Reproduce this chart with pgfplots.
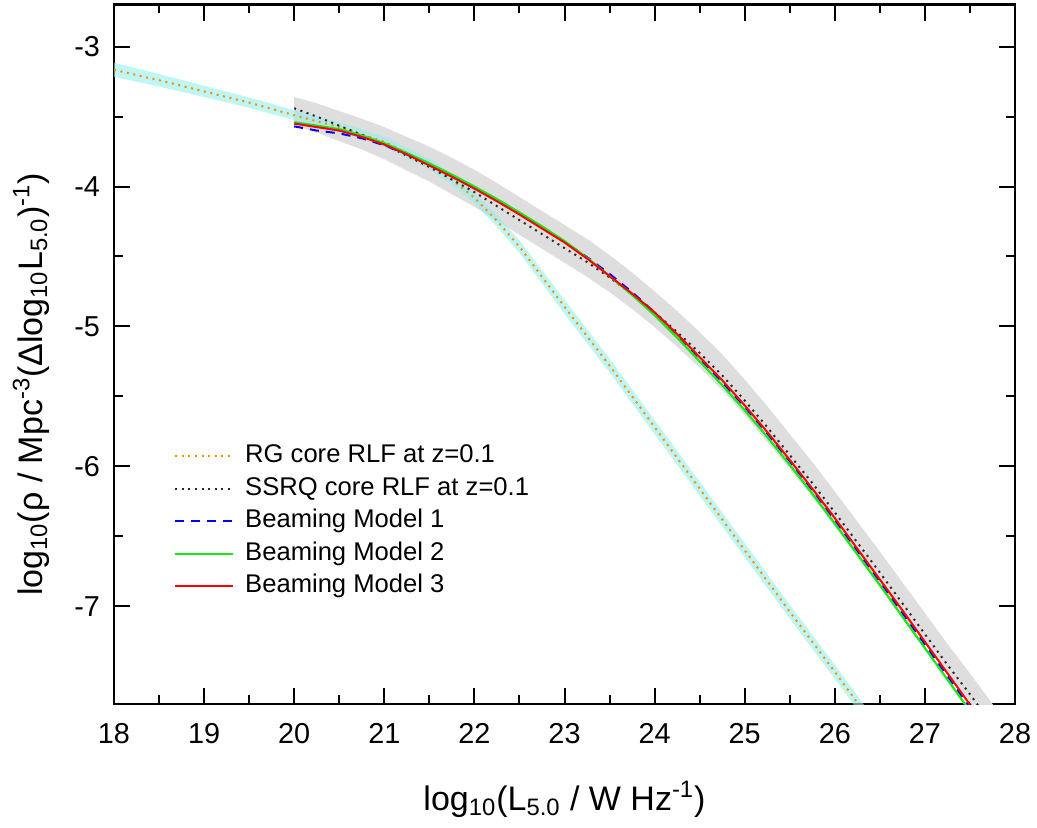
\documentclass[border=0pt]{standalone}
\usepackage{fontspec}
\setmainfont{Liberation Sans}
\usepackage{pgfplots}
\usepackage{pgfplotstable}
\pgfplotsset{compat=1.18}
\usepgfplotslibrary{fillbetween}
\definecolor{rgorange}{RGB}{255,140,0}
\definecolor{bandcyan}{RGB}{147,238,238}
\definecolor{bandgrey}{RGB}{222,222,222}
\definecolor{mgreen}{RGB}{20,235,20}
\definecolor{mred}{RGB}{255,0,0}
\definecolor{mblue}{RGB}{0,0,255}
\definecolor{sgrey}{RGB}{40,40,40}

% RG core RLF with its uncertainty band
\pgfplotstableread{
x      y       lo      hi
18.0  -3.165  -3.215  -3.115
18.5  -3.24   -3.285  -3.195
19.0  -3.32   -3.36   -3.28
19.5  -3.40   -3.437  -3.363
20.0  -3.49   -3.525  -3.455
20.5  -3.575  -3.61   -3.54
21.0  -3.68   -3.715  -3.645
21.25 -3.76   -3.796  -3.724
21.5  -3.84   -3.877  -3.803
21.75 -3.95   -3.988  -3.912
22.0  -4.08   -4.12   -4.04
22.25 -4.245  -4.287  -4.203
22.5  -4.43   -4.475  -4.385
22.75 -4.645  -4.692  -4.598
23.0  -4.86   -4.91   -4.81
23.25 -5.07   -5.12   -5.02
23.5  -5.28   -5.33   -5.23
24.0  -5.72   -5.77   -5.67
24.5  -6.16   -6.21   -6.11
25.0  -6.60   -6.65   -6.55
25.5  -7.04   -7.09   -6.99
26.0  -7.47   -7.52   -7.42
26.5  -7.91   -7.96   -7.86
}\rgtable

% SSRQ core RLF with its uncertainty band
\pgfplotstableread{
x      y       lo      hi
20.0  -3.44   -3.56   -3.36
20.25 -3.50   -3.615  -3.405
20.5  -3.565  -3.675  -3.46
20.75 -3.63   -3.735  -3.515
21.0  -3.70   -3.805  -3.575
21.25 -3.78   -3.885  -3.645
21.5  -3.86   -3.965  -3.715
21.75 -3.95   -4.055  -3.795
22.0  -4.04   -4.145  -3.88
22.25 -4.14   -4.245  -3.975
22.5  -4.24   -4.345  -4.075
22.75 -4.34   -4.445  -4.175
23.0  -4.44   -4.545  -4.275
23.25 -4.54   -4.645  -4.375
23.5  -4.65   -4.755  -4.49
23.75 -4.77   -4.875  -4.615
24.0  -4.90   -5.005  -4.75
24.25 -5.04   -5.145  -4.89
24.5  -5.19   -5.295  -5.04
24.75 -5.35   -5.455  -5.20
25.0  -5.53   -5.635  -5.38
25.25 -5.72   -5.825  -5.57
25.5  -5.92   -6.02   -5.77
25.75 -6.12   -6.22   -5.97
26.0  -6.33   -6.43   -6.18
26.25 -6.545  -6.64   -6.395
26.5  -6.76   -6.85   -6.61
26.75 -6.98   -7.06   -6.83
27.0  -7.20   -7.27   -7.05
27.25 -7.42   -7.48   -7.27
27.5  -7.63   -7.69   -7.48
27.75 -7.85   -7.90   -7.70
28.0  -8.07   -8.11   -7.92
}\ssrqtable

% Beaming models
\pgfplotstableread{
x      m1      m2      m3
20.0  -3.57   -3.54   -3.55
20.25 -3.60   -3.565  -3.575
20.5  -3.62   -3.59   -3.60
20.75 -3.655  -3.635  -3.645
21.0  -3.705  -3.69   -3.70
21.25 -3.77   -3.76   -3.77
21.5  -3.84   -3.835  -3.85
21.75 -3.92   -3.915  -3.93
22.0  -4.005  -4.00   -4.015
22.25 -4.095  -4.09   -4.105
22.5  -4.19   -4.185  -4.20
22.75 -4.29   -4.285  -4.30
23.0  -4.395  -4.39   -4.40
23.25 -4.505  -4.51   -4.515
23.5  -4.625  -4.64   -4.64
23.75 -4.755  -4.775  -4.765
24.0  -4.90   -4.92   -4.90
24.25 -5.06   -5.08   -5.055
24.5  -5.23   -5.25   -5.22
24.75 -5.40   -5.42   -5.385
25.0  -5.575  -5.60   -5.565
25.25 -5.765  -5.79   -5.755
25.5  -5.965  -5.99   -5.955
25.75 -6.17   -6.195  -6.16
26.0  -6.385  -6.41   -6.37
26.25 -6.605  -6.63   -6.59
26.5  -6.825  -6.85   -6.81
26.75 -7.05   -7.075  -7.03
27.0  -7.275  -7.30   -7.255
27.25 -7.50   -7.525  -7.48
27.5  -7.725  -7.75   -7.705
}\modeltable

\begin{document}
\begin{tikzpicture}
\begin{axis}[
  scale only axis,
  width=450.5pt, height=349.65pt,
  xmin=18, xmax=28, ymin=-7.7, ymax=-2.7,
  xtick={18,19,20,21,22,23,24,25,26,27,28},
  xticklabels={18,19,20,21,22,23,24,25,26,27,28},
  ytick={-7,-6,-5,-4,-3},
  yticklabels={-7,-6,-5,-4,-3},
  minor x tick num=1, minor y tick num=1,
  tick align=inside, tick pos=both,
  major tick length=8pt, minor tick length=4.3pt,
  every tick/.append style={black, line width=1pt},
  axis line style={line width=1.4pt},
  ticklabel style={font=\fontsize{14.4}{17}\selectfont},
  xticklabel style={yshift=-6pt},
  yticklabel style={xshift=-3.5pt},
  every axis x label/.style={at={(axis description cs:0.5,-0.1516)}, anchor=base},
  every axis y label/.style={at={(axis description cs:-0.0799,0.457)}, rotate=90, anchor=base},
  label style={font=\fontsize{17}{20}\selectfont},
  xlabel={log\textsubscript{10}(L\textsubscript{5.0} / W Hz\textsuperscript{-1})},
  ylabel={log\textsubscript{10}(ρ / Mpc\textsuperscript{-3}(Δlog\textsubscript{10}L\textsubscript{5.0})\textsuperscript{-1})},
  legend style={at={(axis cs:18.666,-5.844)}, anchor=north west, draw=none, fill=none,
    inner sep=0pt, outer sep=0pt, row sep=4.2pt, column sep=5.5pt,
    font=\fontsize{12.8}{15}\selectfont,
    nodes={inner sep=0pt, text height=9.2pt, text depth=2.8pt}},
  legend cell align=left,
  legend image code/.code={\draw[#1] (0pt,0pt) -- (29pt,0pt);},
]
% uncertainty bands
\addplot[name path=ssrqhi, draw=none, forget plot] table[x=x, y=hi]{\ssrqtable};
\addplot[name path=ssrqlo, draw=none, forget plot] table[x=x, y=lo]{\ssrqtable};
\addplot[bandgrey, forget plot] fill between[of=ssrqhi and ssrqlo];
\addplot[name path=rghi, draw=none, forget plot] table[x=x, y=hi]{\rgtable};
\addplot[name path=rglo, draw=none, forget plot] table[x=x, y=lo]{\rgtable};
\addplot[bandcyan, fill opacity=0.6, forget plot] fill between[of=rghi and rglo];
% curves
\addplot[rgorange, line width=1pt, dash pattern=on 1pt off 2.3pt] table[x=x, y=y]{\rgtable};
\addlegendentry{RG core RLF at z=0.1}
\addplot[sgrey, line width=1pt, dash pattern=on 1pt off 2.3pt] table[x=x, y=y]{\ssrqtable};
\addlegendentry{SSRQ core RLF at z=0.1}
\addplot[mblue, line width=1pt, dash pattern=on 4.5pt off 3.5pt] table[x=x, y=m1]{\modeltable};
\addlegendentry{Beaming Model 1}
\addplot[mgreen, line width=1.1pt] table[x=x, y=m2]{\modeltable};
\addlegendentry{Beaming Model 2}
\addplot[mred, line width=1pt] table[x=x, y=m3]{\modeltable};
\addlegendentry{Beaming Model 3}
\end{axis}
\pgfresetboundingbox
\path (-57pt,-61.5pt) rectangle (461.5pt,352pt);
\end{tikzpicture}
\end{document}
